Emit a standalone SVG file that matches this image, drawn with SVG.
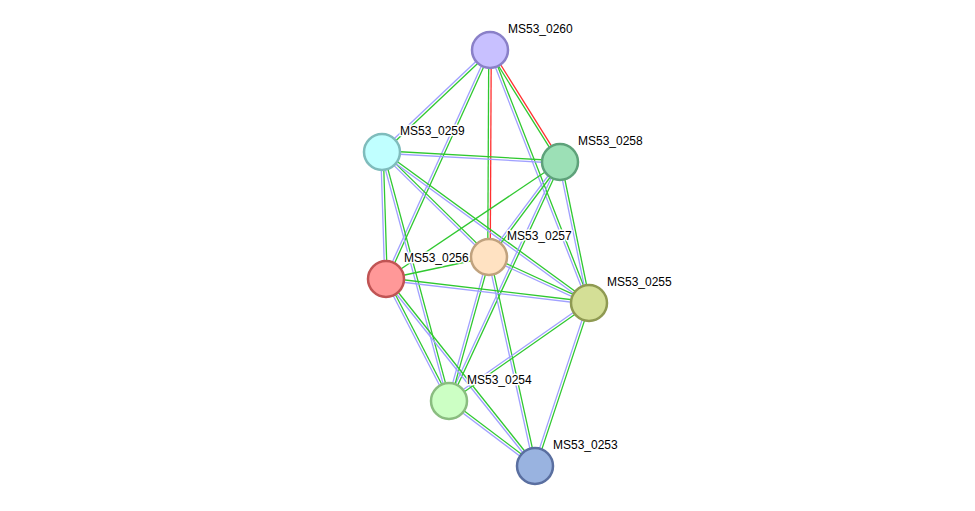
<svg xmlns="http://www.w3.org/2000/svg" width="975" height="511" viewBox="0 0 975 511">
<style>
.b{stroke:#a0a0ff;stroke-width:1.3;fill:none}
.g{stroke:#30c830;stroke-width:1.3;fill:none}
.r{stroke:#ff3030;stroke-width:1.3;fill:none}
.n{stroke-width:2.5}
.t{font-family:"Liberation Sans",Arial,sans-serif;font-size:12px;fill:#000;stroke:#fff;stroke-width:3px;stroke-linejoin:round;paint-order:stroke}
</style>
<rect width="975" height="511" fill="#fff"/>
<g id="edges">
<line class="b" x1="489.14" y1="49.09" x2="381.14" y2="151.09"/><line class="g" x1="490.86" y1="50.91" x2="382.86" y2="152.91"/>
<line class="b" x1="488.86" y1="49.48" x2="384.86" y2="278.48"/><line class="g" x1="491.14" y1="50.52" x2="387.14" y2="279.52"/>
<line class="g" x1="488.75" y1="50" x2="487.75" y2="257"/><line class="r" x1="491.25" y1="50" x2="490.25" y2="257"/>
<line class="g" x1="488.94" y1="50.66" x2="558.94" y2="162.66"/><line class="r" x1="491.06" y1="49.34" x2="561.06" y2="161.34"/>
<line class="b" x1="488.84" y1="50.46" x2="587.84" y2="303.46"/><line class="g" x1="491.16" y1="49.54" x2="590.16" y2="302.54"/>
<line class="b" x1="381.93" y1="153.25" x2="559.93" y2="163.25"/><line class="g" x1="382.07" y1="150.75" x2="560.07" y2="160.75"/>
<line class="b" x1="381.12" y1="152.89" x2="488.12" y2="257.89"/><line class="g" x1="382.88" y1="151.11" x2="489.88" y2="256.11"/>
<line class="b" x1="381.26" y1="153.01" x2="588.26" y2="304.01"/><line class="g" x1="382.74" y1="150.99" x2="589.74" y2="301.99"/>
<line class="b" x1="380.75" y1="152.04" x2="384.75" y2="279.04"/><line class="g" x1="383.25" y1="151.96" x2="387.25" y2="278.96"/>
<line class="b" x1="380.79" y1="152.32" x2="447.79" y2="401.32"/><line class="g" x1="383.21" y1="151.68" x2="450.21" y2="400.68"/>
<line class="b" x1="559" y1="161.25" x2="488" y2="256.25"/><line class="g" x1="561" y1="162.75" x2="490" y2="257.75"/>
<line class="g" x1="560" y1="162" x2="386" y2="279"/>
<line class="b" x1="558.78" y1="162.25" x2="587.78" y2="303.25"/><line class="g" x1="561.22" y1="161.75" x2="590.22" y2="302.75"/>
<line class="b" x1="558.87" y1="161.47" x2="447.87" y2="400.47"/><line class="g" x1="561.13" y1="162.53" x2="450.13" y2="401.53"/>
<line class="g" x1="489" y1="257" x2="386" y2="279"/>
<line class="b" x1="488.48" y1="258.14" x2="588.48" y2="304.14"/><line class="g" x1="489.52" y1="255.86" x2="589.52" y2="301.86"/>
<line class="b" x1="487.8" y1="256.67" x2="447.8" y2="400.67"/><line class="g" x1="490.2" y1="257.33" x2="450.2" y2="401.33"/>
<line class="b" x1="487.78" y1="257.27" x2="533.78" y2="466.27"/><line class="g" x1="490.22" y1="256.73" x2="536.22" y2="465.73"/>
<line class="b" x1="385.85" y1="280.24" x2="588.85" y2="304.24"/><line class="g" x1="386.15" y1="277.76" x2="589.15" y2="301.76"/>
<line class="b" x1="384.89" y1="279.57" x2="447.89" y2="401.57"/><line class="g" x1="387.11" y1="278.43" x2="450.11" y2="400.43"/>
<line class="b" x1="385.02" y1="279.78" x2="534.02" y2="466.78"/><line class="g" x1="386.98" y1="278.22" x2="535.98" y2="465.22"/>
<line class="b" x1="588.28" y1="301.98" x2="448.28" y2="399.98"/><line class="g" x1="589.72" y1="304.02" x2="449.72" y2="402.02"/>
<line class="b" x1="587.81" y1="302.61" x2="533.81" y2="465.61"/><line class="g" x1="590.19" y1="303.39" x2="536.19" y2="466.39"/>
<line class="b" x1="448.25" y1="402" x2="534.25" y2="467"/><line class="g" x1="449.75" y1="400" x2="535.75" y2="465"/>
</g>
<g id="MS53_0260"><circle class="n" cx="490" cy="50" r="18" fill="#c8c0ff" stroke="#8a80c8"/><text class="t" x="508" y="33">MS53_0260</text></g>
<g id="MS53_0259"><circle class="n" cx="382" cy="152" r="18" fill="#c0ffff" stroke="#7fbcbc"/><text class="t" x="400" y="135">MS53_0259</text></g>
<g id="MS53_0258"><circle class="n" cx="560" cy="162" r="18" fill="#9ce0b6" stroke="#5ea27a"/><text class="t" x="578" y="145">MS53_0258</text></g>
<g id="MS53_0257"><circle class="n" cx="489" cy="257" r="18" fill="#ffe2c2" stroke="#c0a27e"/><text class="t" x="507" y="240">MS53_0257</text></g>
<g id="MS53_0256"><circle class="n" cx="386" cy="279" r="18" fill="#ff9898" stroke="#c05454"/><text class="t" x="404" y="262">MS53_0256</text></g>
<g id="MS53_0255"><circle class="n" cx="589" cy="303" r="18" fill="#d4df96" stroke="#8f9a52"/><text class="t" x="607" y="286">MS53_0255</text></g>
<g id="MS53_0254"><circle class="n" cx="449" cy="401" r="18" fill="#ccffc4" stroke="#8abd80"/><text class="t" x="467" y="384">MS53_0254</text></g>
<g id="MS53_0253"><circle class="n" cx="535" cy="466" r="18" fill="#99b3e0" stroke="#5a6fa0"/><text class="t" x="553" y="449">MS53_0253</text></g>
</svg>
